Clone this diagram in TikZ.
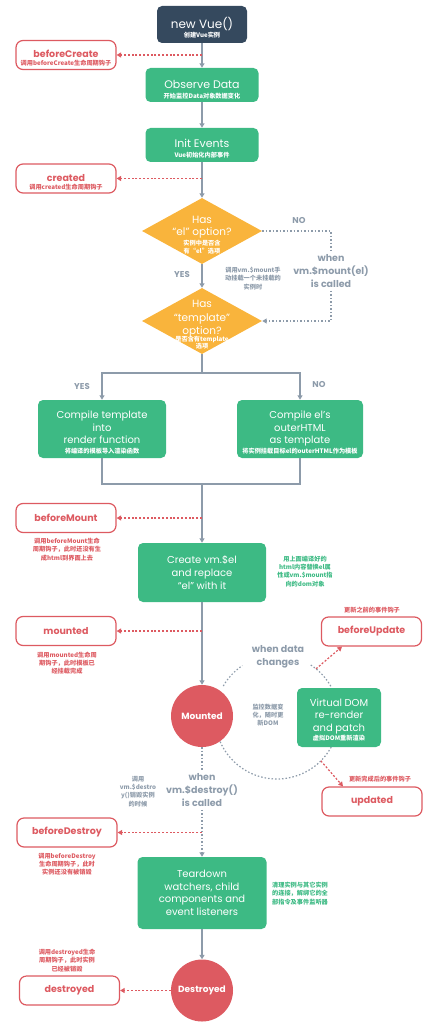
\documentclass[tikz,border=0pt]{standalone}
\usepackage{fontspec}
\setmainfont{Poppins}
\newfontfamily\cjk{Noto Sans CJK SC}
\usetikzlibrary{arrows.meta,shapes.geometric}
\definecolor{vuedark}{HTML}{35495E}
\definecolor{vuegreen}{HTML}{3DBA84}
\definecolor{vueorange}{HTML}{F9B43C}
\definecolor{vuered}{HTML}{DD5A61}
\definecolor{vuegray}{HTML}{8D9BAA}
\newcommand\zh{\cjk\bfseries\fontsize{6.2}{8.2}\selectfont}
\newcommand\zhsub[1]{{\zh #1}}
\newcommand\lowtext[1]{\rule{0pt}{#1pt}}
\tikzset{
  tip/.style={-{Triangle[length=4.5pt,width=5pt]}},
  flow/.style={draw=vuegray,line width=1.3pt,tip},
  trunk/.style={draw=vuegray,line width=1.3pt},
  hook/.style={draw=vuered,line width=1.2pt,dash pattern=on 2pt off 1.8pt,tip},
  loopline/.style={draw=vuegray,line width=1.2pt,dash pattern=on 1.5pt off 2pt},
  stagebox/.style={rounded corners=5pt,fill=vuegreen,text=white,align=center,inner sep=0pt,font=\fontsize{10}{12.6}\selectfont},
  hookbox/.style={rounded corners=7pt,draw=vuered,line width=1.2pt,fill=white,text=vuered,align=center,inner sep=0pt,minimum width=100pt,minimum height=29pt,font=\bfseries\fontsize{9.5}{10.5}\selectfont},
  choice/.style={diamond,fill=vueorange,inner sep=0pt,minimum width=120pt,minimum height=66pt},
  choicetext/.style={text=white,align=center,font=\fontsize{10.5}{12.8}\selectfont},
  statecircle/.style={circle,fill=vuered,text=white,minimum size=62pt,inner sep=0pt,font=\bfseries\fontsize{9}{10}\selectfont},
  graynote/.style={text=vuegray,align=center,font=\zh},
  rednote/.style={text=vuered,align=center,font=\zh},
  greennote/.style={text=vuegreen,align=center,font=\zh},
  cond/.style={text=vuegray,align=center,font=\bfseries\fontsize{9.5}{12.8}\selectfont},
  answer/.style={text=vuegray,font=\bfseries\fontsize{8.5}{10}\selectfont},
}
\begin{document}
\begin{tikzpicture}[x=1pt,y=-1pt]
\useasboundingbox (0,0) rectangle (432,1024);

\node[stagebox,fill=vuedark,minimum width=90pt,minimum height=37pt,font=\fontsize{12}{13}\selectfont] (newvue) at (202,24.5) {\lowtext{18}new Vue()\\[-4pt]\zhsub{创建Vue实例}};
\node[stagebox,minimum width=113pt,minimum height=34pt,font=\fontsize{11}{12}\selectfont] (observe) at (202,85) {\lowtext{17}Observe Data\\[-2pt]\zhsub{开始监控Data对象数据变化}};
\node[stagebox,minimum width=113pt,minimum height=34pt,font=\fontsize{11}{12}\selectfont] (initev) at (202,145) {\lowtext{16}Init Events\\[-2pt]\zhsub{Vue初始化内部事件}};

\node[hookbox] (beforecreate) at (66,55) {\lowtext{14}beforeCreate\\[-2pt]\zhsub{调用beforeCreate生命周期钩子}};
\node[hookbox] (created) at (66,178.5) {\lowtext{14.5}created\\[-2pt]\zhsub{调用created生命周期钩子}};

\node[choice] (elq) at (202,231) {};
\node[choicetext] (elqtext) at (202,235) {Has\\“el” option?\\[-3.5pt]\zhsub{实例中是否含}\\[-4.5pt]\zhsub{有“el”选项}};
\node[choice] (tplq) at (202,321) {};
\node[choicetext,font=\fontsize{10.5}{13.3}\selectfont] (tplqtext) at (202,325) {Has\\“template”\\option?\\[-6pt]\zhsub{是否含有template}\\[-6pt]\zhsub{选项}};

\node[answer] (yesel) at (182,275) {YES};
\node[answer] (noel) at (299,221) {NO};
\node[cond] (mountwhen) at (331,271) {when\\vm.\$mount(el)\\is called};
\node[graynote] (mountnote) at (253,278.5) {调用vm.\$mount手\\动挂载一个未挂载的\\实例时};

\coordinate (split) at (202,373);
\coordinate (join) at (202,484);
\node[answer] (yestpl) at (82,387) {YES};
\node[answer] (notpl) at (319,385) {NO};
\node[stagebox,minimum width=128pt,minimum height=58pt] (compiletpl) at (102,429) {\lowtext{14.5}Compile template\\into\\render function\\[-3pt]\zhsub{将编译的模板导入渲染函数}};
\node[stagebox,minimum width=126pt,minimum height=58pt] (compileel) at (300,429) {\lowtext{14.5}Compile el’s\\outerHTML\\as template\\[-3pt]\zhsub{将实例挂载目标el的outerHTML作为模板}};

\node[hookbox] (beforemount) at (66,518) {beforeMount};
\node[rednote] (beforemountnote) at (67,549.5) {调用beforeMount生命\\周期钩子，此时还没有生\\成html到界面上去};
\node[stagebox,minimum width=128pt,minimum height=59pt] (createel) at (202,572.5) {Create vm.\$el\\and replace\\“el” with it};
\node[greennote] (createelnote) at (305,571.5) {用上面编译好的\\html内容替换el属\\性或vm.\$mount指\\向的dom对象};

\node[hookbox] (mounted) at (66,631) {mounted};
\node[rednote] (mountednote) at (67,663) {调用mounted生命周\\期钩子，此时模板已\\经挂载完成};
\node[hookbox] (beforeupdate) at (371.5,631.5) {beforeUpdate};
\node[rednote] (beforeupdatenote) at (372,610) {更新之前的事件钩子};

\begin{scope}[shift={(277,717)},y=1pt]
  \draw[loopline] (150:62) arc[start angle=150,end angle=124,radius=62];
  \draw[loopline] (57:62) arc[start angle=57,end angle=28,radius=62];
  \draw[loopline] (-29:62) arc[start angle=-29,end angle=-158,radius=62];
  \coordinate (updfrom) at (51:62);
  \coordinate (updto) at (-45:62);
\end{scope}

\node[statecircle] (mountedc) at (202,716) {Mounted};
\node[cond] (datawhen) at (278,657) {when data\\changes};
\node[graynote] (datanote) at (268,715) {监控数据变\\化，随时更\\新DOM};
\node[stagebox,minimum width=84pt,minimum height=59pt] (vdom) at (339,717.5) {\lowtext{12.5}Virtual DOM\\re-render\\and patch\\[-3pt]\zhsub{虚拟DOM重新渲染}};
\node[hookbox] (updated) at (372,801.5) {updated};
\node[rednote] (updatednote) at (380,779) {更新完成后的事件钩子};

\node[cond] (destroywhen) at (202,790) {when\\vm.\$destroy()\\is called};
\node[graynote] (destroynote) at (138,791.5) {调用\\vm.\$destro\\y()销毁实例\\的时候};
\node[hookbox] (beforedestroy) at (67,832.5) {beforeDestroy};
\node[rednote] (beforedestroynote) at (67,864) {调用beforeDestroy\\生命周期钩子，此时\\实例还没有被销毁};
\node[stagebox,minimum width=129pt,minimum height=72pt] (teardown) at (202,893) {Teardown\\watchers, child\\components and\\event listeners};
\node[greennote] (teardownnote) at (300,893.5) {清理实例与其它实例\\的连接，解绑它的全\\部指令及事件监听器};

\node[statecircle] (destroyedc) at (202,990.5) {Destroyed};
\node[hookbox] (destroyed) at (69.5,990.5) {destroyed};
\node[rednote] (destroyednote) at (67,960.5) {调用destroyed生命\\周期钩子，此时实例\\已经被销毁};

\draw[flow] (newvue) -- (observe);
\draw[flow] (observe) -- (initev);
\draw[flow] (initev) -- (elq);
\draw[flow] (elq) -- (tplq);
\draw[loopline] (elq.east) -| (mountwhen.north);
\draw[loopline,tip] (mountwhen.south) |- (tplq.east);
\draw[trunk] (tplq.south) -- (split);
\draw[flow] (split) -| (compiletpl.north);
\draw[flow] (split) -| (compileel.north);
\draw[trunk] (compiletpl.south) |- (join) -| (compileel.south);
\draw[flow] (join) -- (createel);
\draw[flow] (createel) -- (mountedc);
\draw[loopline] (mountedc) -- (destroywhen);
\draw[loopline,tip] (destroywhen) -- (teardown);
\draw[flow] (teardown) -- (destroyedc);

\draw[hook] (newvue.south |- beforecreate.east) -- (beforecreate.east);
\draw[hook] (initev.south |- created.east) -- (created.east);
\draw[hook] (join |- beforemount.east) -- (beforemount.east);
\draw[hook] (createel.south |- mounted.east) -- (mounted.east);
\draw[hook] (updfrom) -- ([xshift=-29.5pt]beforeupdate.south);
\draw[hook] (updto) -- ([xshift=-29pt]updated.north);
\draw[hook] (destroywhen.south |- beforedestroy.east) -- (beforedestroy.east);
\draw[hook] (destroyedc) -- (destroyed);
\end{tikzpicture}
\end{document}
